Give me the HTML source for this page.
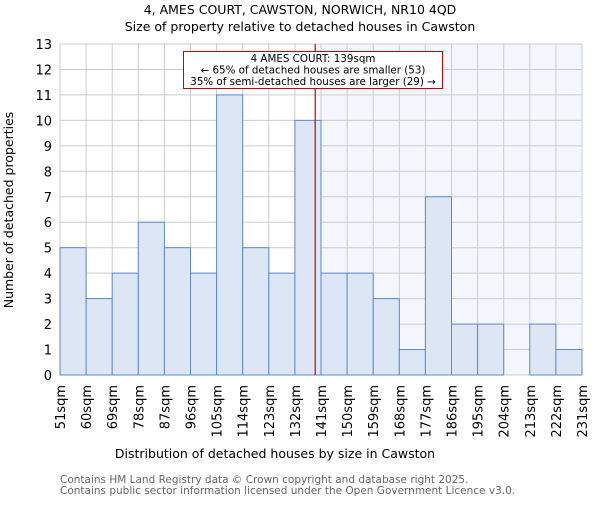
<!DOCTYPE html>
<html><head><meta charset="utf-8"><style>
body{margin:0;background:#fff}
svg{font-family:"DejaVu Sans","Liberation Sans",sans-serif}
</style></head><body>
<svg id="chart" width="600" height="500">
<text x="300" y="14" text-anchor="middle" font-size="12.5">4, AMES COURT, CAWSTON, NORWICH, NR10 4QD</text>
<text x="300" y="31" text-anchor="middle" font-size="12.5">Size of property relative to detached houses in Cawston</text>
<g id="plot"></g>
<text x="275" y="458" text-anchor="middle" font-size="12.5">Distribution of detached houses by size in Cawston</text>
<text transform="translate(13,210) rotate(-90)" text-anchor="middle" font-size="12.5">Number of detached properties</text>
<text x="60" y="483" font-size="10.5" fill="#666">Contains HM Land Registry data © Crown copyright and database right 2025.</text>
<text x="60" y="494" font-size="10.5" fill="#666">Contains public sector information licensed under the Open Government Licence v3.0.</text>
</svg>
<script>
const categories=["51sqm","60sqm","69sqm","78sqm","87sqm","96sqm","105sqm","114sqm","123sqm","132sqm","141sqm","150sqm","159sqm","168sqm","177sqm","186sqm","195sqm","204sqm","213sqm","222sqm","231sqm"];
const counts=[5,3,4,6,5,4,11,5,4,10,4,4,3,1,7,2,2,0,2,1];
const yTicks=[0,1,2,3,4,5,6,7,8,9,10,11,12,13];
const binStart=51, binWidth=9, marker=139;
const L=60,R=582,T=44,B=375;
const n=counts.length;
const xs=v=>L+(v-binStart)/binWidth*(R-L)/n;
const ys=v=>B-v/13*(B-T);
const ns="http://www.w3.org/2000/svg";
const g=document.getElementById('plot');
function mk(tag,a,txt){const e=document.createElementNS(ns,tag);for(const k in a)e.setAttribute(k,a[k]);if(txt!=null)e.textContent=txt;g.appendChild(e);return e;}
let e;
e=mk('rect',{x:xs(marker),y:T,width:R-xs(marker),height:B-T,fill:"#f3f6fd"});


yTicks.forEach(t=>{
 e=mk('line',{x1:L,x2:R,y1:ys(t),y2:ys(t),stroke:"#cccccc","stroke-width":1});
 
 
 e=mk('text',{x:L-8,y:ys(t)+5,"text-anchor":"end","font-size":13},t);
 
 
});
categories.forEach((c,i)=>{
 const x=xs(binStart+i*binWidth);
 e=mk('line',{x1:x,x2:x,y1:T,y2:B,stroke:"#cccccc","stroke-width":1});
 
 
 e=mk('text',{transform:`translate(${x+5},${B+10}) rotate(-90)`,"text-anchor":"end","font-size":13},c);
 
 
});
counts.forEach((v,i)=>{
 if(v<=0)return;
 const x0=xs(binStart+i*binWidth),x1=xs(binStart+(i+1)*binWidth);
 e=mk('rect',{x:x0,y:ys(v),width:x1-x0,height:B-ys(v),fill:"#dce6f4",stroke:"#5a8ad6","stroke-width":1});
 
 
});
e=mk('line',{x1:xs(marker),x2:xs(marker),y1:T,y2:B,stroke:"#cc0000","stroke-width":1.2});


e=mk('rect',{x:183.5,y:51.5,width:259,height:37,fill:"#fff",stroke:"#cc0000","stroke-width":1});


[["4 AMES COURT: 139sqm",62],["← 65% of detached houses are smaller (53)",73.5],["35% of semi-detached houses are larger (29) →",85]].forEach(([t,y])=>{
 e=mk('text',{x:313,y:y,"text-anchor":"middle","font-size":10.3},t);
 
 
});
</script>
</body></html>
